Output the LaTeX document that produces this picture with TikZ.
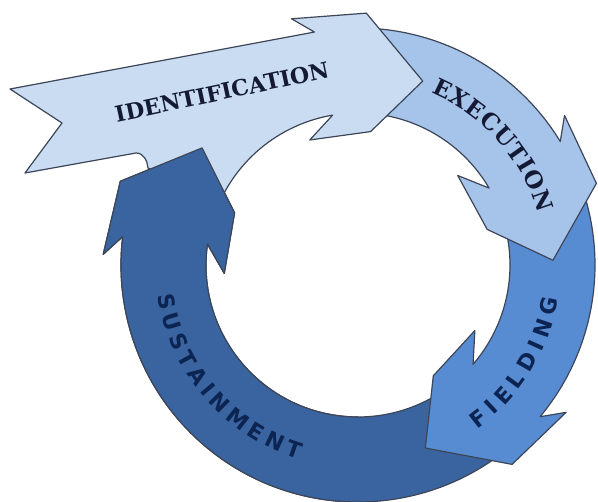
\documentclass[tikz,border=0pt]{standalone}
\usepackage{fontspec}
\usepackage{tikz}
\usetikzlibrary{decorations.text}
\newfontfamily\cycleserif{DejaVu Serif}
\newfontfamily\cyclesans{DejaVu Sans}
\definecolor{identblue}{HTML}{C9DCF1}
\definecolor{execblue}{HTML}{A6C3E9}
\definecolor{fieldblue}{HTML}{588CD2}
\definecolor{sustblue}{HTML}{3A64A0}
\definecolor{rimgray}{HTML}{3C4658}
\definecolor{inknavy}{HTML}{0C2452}
\definecolor{inkdark}{HTML}{141A33}

\begin{document}
\begin{tikzpicture}[x=1pt,y=1pt,
rim/.style={draw=rimgray, line width=1.2pt, line join=round},
ring arrow/.style 2 args={insert path={(#1:237pt) arc[start angle=#1, end angle={#2+30}, radius=237pt]
 -- ({#2+34.5}:255pt) -- ({#2+17.5}:252pt) -- (#2:195pt) -- ({#2+14}:134pt) -- ({#2+40.5}:134pt)
 -- ({#2+29}:152pt) arc[start angle={#2+29}, end angle=#1, radius=152pt] -- ({#1-10}:195pt) -- cycle}},
ring text/.style={decorate, decoration={text along path, text align={fit to path}, text={#1}}}]
\useasboundingbox (-358,-237) rectangle (240,265);
% ring, drawn so that each head lies over the next tail
\filldraw[rim, fill=sustblue, ring arrow={315}{143.1}];
\filldraw[rim, fill=fieldblue, ring arrow={18}{-69.8}];
\filldraw[rim, fill=execblue, ring arrow={100}{1.4}];
\filldraw[rim, fill=identblue] (-348,176) -- (100.6:237pt) -- (105.1:255pt) -- (88.1:252pt) -- (70.6:195pt)
 -- (84.6:134pt) -- (111.1:134pt) -- (99.6:152pt) arc[start angle=99.6, end angle=156, radius=152pt]
 -- (-210,97) to[out=95,in=0] (-222,112) -- (-333,92) -- (-296,142) -- cycle;
\begin{scope}
\clip (-358,-237) rectangle (0,265);
\filldraw[rim, fill=sustblue, ring arrow={315}{143.1}];
\end{scope}
% labels
\node[rotate=12, text=inkdark, font=\cycleserif\bfseries\fontsize{22}{22}\selectfont] (identlabel) at (-136,173) {IDENTIFICATION};
\path[ring text={|\cycleserif\bfseries\fontsize{23}{23}\selectfont\color{inkdark}|EXECUTION}]
 (67:187pt) arc[start angle=67, end angle=16, radius=187pt];
\path[ring text={|\cyclesans\bfseries\fontsize{22}{22}\selectfont\color{inknavy}|FIELDING}]
 (-54:203pt) arc[start angle=-54, end angle=-9.5, radius=203pt];
\path[ring text={|\cyclesans\bfseries\fontsize{22}{22}\selectfont\color{inknavy}|SUSTAINMENT}]
 (188.5:203pt) arc[start angle=188.5, end angle=253, radius=203pt];
\end{tikzpicture}
\end{document}
